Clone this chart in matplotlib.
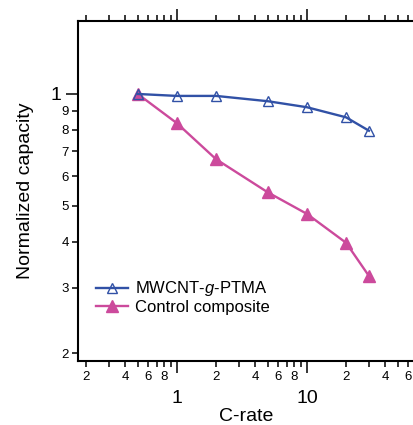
import matplotlib
matplotlib.use("Agg")
import matplotlib.pyplot as plt
from matplotlib.ticker import FixedLocator, FixedFormatter

plt.rcParams['font.family'] = ['Liberation Sans', 'DejaVu Sans']
plt.rcParams['mathtext.fontset'] = 'custom'
plt.rcParams['mathtext.rm'] = 'Liberation Sans'
plt.rcParams['mathtext.it'] = 'Liberation Sans:italic'

# Data
c_rate = [0.5, 1, 2, 5, 10, 20, 30]
ptma = [1.0, 0.988, 0.988, 0.956, 0.921, 0.865, 0.796]
control = [1.0, 0.834, 0.667, 0.543, 0.475, 0.397, 0.323]
series_labels = [r'MWCNT-$\mathit{g}$-PTMA', 'Control composite']

x_major = [1, 10]
x_major_labels = ['1', '10']
x_minor = [0.2, 0.3, 0.4, 0.5, 0.6, 0.7, 0.8, 0.9,
           2, 3, 4, 5, 6, 7, 8, 9, 20, 30, 40, 50, 60]
x_minor_labels = ['2', '', '4', '', '6', '', '8', '',
                  '2', '', '4', '', '6', '', '8', '', '2', '', '4', '', '6']
y_major = [1]
y_major_labels = ['1']
y_minor = [0.2, 0.3, 0.4, 0.5, 0.6, 0.7, 0.8, 0.9]
y_minor_labels = ['2', '3', '4', '5', '6', '7', '8', '9']

blue = '#3151A6'
pink = '#CC4A9C'

fig = plt.figure(figsize=(4.14, 4.25), dpi=100)
ax = fig.add_axes([0.188, 0.1506, 0.812, 0.80])

l2, = ax.plot(c_rate, control, color=pink, lw=1.7, marker='^', ms=8.5,
              mfc=pink, mec=pink, zorder=3)
l1, = ax.plot(c_rate, ptma, color=blue, lw=1.7, marker='^', ms=7.5,
              mfc='none', mec=blue, mew=1.0, zorder=4)

ax.set_xscale('log')
ax.set_yscale('log')
ax.set_xlim(0.173, 66.6)
ax.set_ylim(0.1906, 1.573)

ax.xaxis.set_major_locator(FixedLocator(x_major))
ax.xaxis.set_major_formatter(FixedFormatter(x_major_labels))
ax.xaxis.set_minor_locator(FixedLocator(x_minor))
ax.xaxis.set_minor_formatter(FixedFormatter(x_minor_labels))
ax.yaxis.set_major_locator(FixedLocator(y_major))
ax.yaxis.set_major_formatter(FixedFormatter(y_major_labels))
ax.yaxis.set_minor_locator(FixedLocator(y_minor))
ax.yaxis.set_minor_formatter(FixedFormatter(y_minor_labels))

for s in ['left', 'bottom', 'top']:
    ax.spines[s].set_linewidth(1.5)
ax.spines['right'].set_visible(False)

ax.tick_params(axis='x', which='major', direction='out', length=8.6, width=1.1,
               labelsize=14, pad=12, top=True, labeltop=False)
ax.tick_params(axis='x', which='minor', direction='out', length=4.3, width=1.1,
               labelsize=9.5, pad=3, top=True, labeltop=False)
ax.tick_params(axis='y', which='major', direction='out', length=8.6, width=1.1,
               labelsize=14, pad=3, right=False)
ax.tick_params(axis='y', which='minor', direction='out', length=4.3, width=1.1,
               labelsize=9.5, pad=2, right=False)

ax.set_xlabel('C-rate', fontsize=14, labelpad=1)
ax.set_ylabel('Normalized capacity', fontsize=14, labelpad=12)

ax.legend([l1, l2], series_labels, loc='upper left', bbox_to_anchor=(0.055, 0.24),
          frameon=False, fontsize=12, handlelength=1.9, handletextpad=0.45,
          labelspacing=0.1, borderpad=0, borderaxespad=0)

fig.savefig('out.png', dpi=100)
